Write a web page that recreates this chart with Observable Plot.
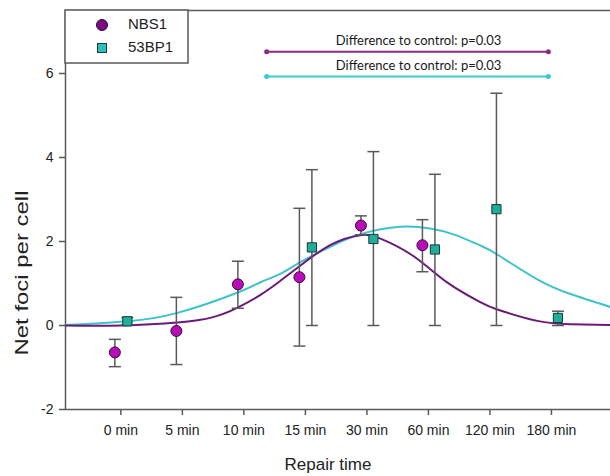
<!DOCTYPE html>
<html><head><meta charset="utf-8">
<script src="https://cdn.jsdelivr.net/npm/d3@7"></script>
<script src="https://cdn.jsdelivr.net/npm/@observablehq/plot@0.6"></script>
<style>
body{margin:0;background:#fff}
#chart{position:relative;width:610px;height:476px}
</style>
</head><body><div id="chart"></div>
<script>
// ---- data ----
const categories = ["0 min","5 min","10 min","15 min","30 min","60 min","120 min","180 min"];
const yTicks = [-2, 0, 2, 4, 6];

const nbs1Time = ["0 min","5 min","10 min","15 min","30 min","60 min"];
const nbs1Mean = [-0.64, -0.13, 0.98, 1.15, 2.38, 1.91];
const nbs1Low  = [-0.98, -0.93, 0.41, -0.49, 2.16, 1.28];
const nbs1High = [-0.33, 0.67, 1.53, 2.79, 2.61, 2.52];

const bp53Time = ["0 min","15 min","30 min","60 min","120 min","180 min"];
const bp53Mean = [0.10, 1.86, 2.06, 1.81, 2.77, 0.18];
const bp53Low  = [0.02, 0.00, 0.00, 0.00, 0.00, 0.00];
const bp53High = [0.19, 3.71, 4.14, 3.60, 5.53, 0.34];

// fitted curves (x in category-index units)
const nbs1FitX = [-0.90, 0.00, 0.92, 1.50, 1.89, 2.27, 2.59, 2.92, 3.41, 3.89, 4.22, 4.76, 5.31, 5.85, 6.12, 6.77, 7.31, 7.96];
const nbs1FitY = [0.00, 0.00, 0.07, 0.20, 0.42, 0.73, 1.06, 1.43, 1.92, 2.15, 2.07, 1.65, 1.02, 0.55, 0.38, 0.11, 0.03, 0.01];
const bp53FitX = [-0.90, 0.11, 0.92, 1.89, 2.27, 2.59, 2.92, 3.41, 3.89, 4.54, 5.03, 5.41, 5.85, 6.12, 6.77, 7.31, 7.96];
const bp53FitY = [0.01, 0.10, 0.30, 0.78, 1.03, 1.23, 1.51, 1.88, 2.17, 2.35, 2.31, 2.17, 1.90, 1.69, 1.10, 0.75, 0.44];

// significance brackets
const bracketLabel = ["Difference to control: p=0.03", "Difference to control: p=0.03"];
const bracketX1 = [2.37, 2.37];
const bracketX2 = [6.95, 6.95];
const bracketY  = [6.52, 5.93];
const bracketLabelX = [4.84, 4.84];

const seriesNames = ["NBS1", "53BP1"];

// ---- build ----
const xDomain = [-0.9, 7.96];
const yDomain = [-2, 7.5];
const cNBS = "#b80cb8", cNBSline = "#6c1a78", cBP = "#1fae9c", cBPline = "#3ec4c8", cAxis = "#5a5a5a";

const nbs1 = nbs1Time.map((t, i) => ({x: categories.indexOf(t), y: nbs1Mean[i], lo: nbs1Low[i], hi: nbs1High[i]}));
const bp53 = bp53Time.map((t, i) => ({x: categories.indexOf(t), y: bp53Mean[i], lo: bp53Low[i], hi: bp53High[i]}));
const nbsFit = nbs1FitX.map((x, i) => ({x, y: nbs1FitY[i]}));
const bpFit = bp53FitX.map((x, i) => ({x, y: bp53FitY[i]}));
const brackets = bracketLabel.map((l, i) => ({l, x1: bracketX1[i], x2: bracketX2[i], y: bracketY[i], lx: bracketLabelX[i], s: i}));
const bColor = ["#8a2a84", "#3ccad0"];

const cap = {draw(ctx) { ctx.moveTo(-6, 0); ctx.lineTo(6, 0); }};

const errMarks = (data, dx) => [
  Plot.ruleX(data, {x: "x", y1: "lo", y2: "hi", dx, stroke: cAxis, strokeWidth: 1.5}),
  Plot.dot(data, {x: "x", y: "lo", dx, symbol: cap, stroke: cAxis, strokeWidth: 1.5}),
  Plot.dot(data, {x: "x", y: "hi", dx, symbol: cap, stroke: cAxis, strokeWidth: 1.5})
];

const chart = Plot.plot({
  width: 610, height: 476,
  marginLeft: 65, marginRight: 0, marginTop: 10, marginBottom: 67,
  style: {fontFamily: "'Liberation Sans', Arial, sans-serif", fontSize: "14px", color: "#222", background: "#fff"},
  x: {domain: xDomain, label: null},
  y: {domain: yDomain, label: null},
  marks: [
    Plot.axisX({ticks: categories.map((_, i) => i), tickFormat: i => categories[i], tickSize: 6, tickPadding: 10, stroke: cAxis, strokeWidth: 1.5, fontSize: 14, label: null}),
    Plot.axisY({ticks: yTicks, tickFormat: d => String(d), tickSize: 6, tickPadding: 6, stroke: cAxis, strokeWidth: 1.5, fontSize: 14, label: null}),
    Plot.ruleX([xDomain[0]], {stroke: cAxis, strokeWidth: 1.5}),
    Plot.ruleY([yDomain[0]], {stroke: cAxis, strokeWidth: 1.5}),
    Plot.ruleY([yDomain[1]], {stroke: cAxis, strokeWidth: 1.5}),
    Plot.line(bpFit, {x: "x", y: "y", curve: "natural", stroke: cBPline, strokeWidth: 2, clip: true}),
    Plot.line(nbsFit, {x: "x", y: "y", curve: "natural", stroke: cNBSline, strokeWidth: 2, clip: true}),
    ...errMarks(nbs1, -6),
    ...errMarks(bp53, 6.5),
    Plot.dot(nbs1, {x: "x", y: "y", dx: -6, r: 5.5, fill: cNBS, stroke: "#3a0a3a", strokeWidth: 1}),
    Plot.dot(bp53, {x: "x", y: "y", dx: 6.5, r: 5.2, symbol: "square", fill: cBP, stroke: "#1a3a36", strokeWidth: 1}),
    Plot.link(brackets, {x1: "x1", x2: "x2", y1: "y", y2: "y", stroke: d => bColor[d.s], strokeWidth: 2}),
    Plot.dot(brackets, {x: "x1", y: "y", r: 2.5, fill: d => bColor[d.s]}),
    Plot.dot(brackets, {x: "x2", y: "y", r: 2.5, fill: d => bColor[d.s]}),
    Plot.text(brackets, {x: "lx", y: "y", text: "l", dy: -11, fontSize: 13, fontFamily: "Lato, 'Open Sans', sans-serif", fill: "#1a1a1a"})
  ]
});

document.getElementById("chart").appendChild(chart);

// axis titles and legend
const svg = d3.select(chart);
svg.append("text").attr("transform", "translate(23,273) rotate(-90)")
  .attr("text-anchor", "middle").attr("dominant-baseline", "middle")
  .attr("font-size", 19).attr("fill", "#222").attr("textLength", 165).attr("lengthAdjust", "spacingAndGlyphs")
  .text("Net foci per cell");
svg.append("text").attr("x", 328).attr("y", 466)
  .attr("text-anchor", "middle").attr("dominant-baseline", "middle")
  .attr("font-size", 17).attr("fill", "#222").text("Repair time");

const lg = svg.append("g").attr("text-anchor", "start");
lg.append("rect").attr("x", 65).attr("y", 10).attr("width", 123).attr("height", 53)
  .attr("fill", "#fff").attr("stroke", cAxis).attr("stroke-width", 1.5);
lg.append("circle").attr("cx", 102).attr("cy", 25).attr("r", 5.5).attr("fill", "#7a0a86").attr("stroke", "#2a0a2a");
lg.append("rect").attr("x", 97.5).attr("y", 43.5).attr("width", 9).attr("height", 9).attr("fill", "#2ebdbd").attr("stroke", "#1a3a36");
lg.append("text").attr("x", 128).attr("y", 25).attr("text-anchor", "start").attr("dominant-baseline", "middle").attr("font-size", 15).attr("fill", "#222").text(seriesNames[0]);
lg.append("text").attr("x", 128).attr("y", 48).attr("text-anchor", "start").attr("dominant-baseline", "middle").attr("font-size", 15).attr("fill", "#222").text(seriesNames[1]);
</script></body></html>
